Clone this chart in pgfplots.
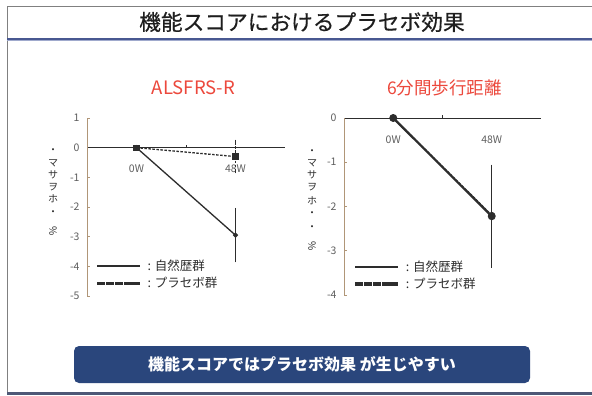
\documentclass[border=0pt]{standalone}
\usepackage{pgfplots}
\pgfplotsset{compat=1.18}
\usepackage{fontspec}
\setmainfont{Noto Sans CJK JP}
\newfontfamily\headfont[FakeBold=0.5]{Noto Sans CJK JP}

\definecolor{navy}{RGB}{42,70,124}
\definecolor{redtitle}{RGB}{236,72,60}
\definecolor{axtan}{RGB}{176,150,120}
\definecolor{ink}{RGB}{45,45,45}
\definecolor{ticktext}{RGB}{95,95,95}
\definecolor{titleink}{RGB}{30,30,30}
\definecolor{ruleblue}{RGB}{72,88,145}
\definecolor{rulelight}{RGB}{160,170,205}
\definecolor{framebot}{RGB}{78,88,118}

\pgfplotsset{
  slidechart/.style={
    scale only axis,
    xmin=-0.5, xmax=1.5,
    axis x line=middle, axis y line=left,
    axis line style={-},
    x axis line style={-, draw=ink, line width=0.9bp},
    y axis line style={-, draw=axtan, line width=0.9bp},
    hide obscured x ticks=false, hide obscured y ticks=false,
    xtick={0.5}, xticklabels={},
    extra x ticks={0,1}, extra x tick labels={0W,48W},
    extra x tick style={major tick length=0pt, xticklabel style={yshift=-14bp}},
    tick align=inside, major tick length=3bp,
    xtick style={draw=ink, line width=0.6bp},
    ytick style={draw=axtan, line width=0.6bp},
    tick label style={font=\fontsize{10.5bp}{12bp}\selectfont, text=ticktext},
    yticklabel style={xshift=-4bp},
    clip=false,
    legend cell align=left,
    legend style={draw=none, fill=none, anchor=west,
      font=\fontsize{12.5bp}{14bp}\selectfont, text=ink,
      row sep=1bp, inner sep=0pt},
    error bars/y dir=both, error bars/y explicit,
    error bars/error bar style={line width=0.9bp, draw=ink},
    error bars/error mark options={line width=0.9bp, mark size=2bp, draw=ink},
  },
  natural/.style={ink, line width=1.3bp, mark=*, mark size=1.8bp,
    mark options={solid, fill=ink}, forget plot},
  placebo/.style={ink, line width=1.3bp, dash pattern=on 2.5bp off 1.5bp,
    mark=square*, mark size=2.5bp, mark options={solid, fill=ink}, forget plot},
  % legend keys: a solid bar and a row of five thick dashes
  legnatural/.style={legend image code/.code={%
    \fill[ink] (0bp,-0.7bp) rectangle (42bp,0.7bp);}},
  legplacebo/.style={legend image code/.code={%
    \foreach \i in {0,...,4}
      \fill[ink] ({\i*8.8bp},-1.3bp) rectangle ++(7bp,2.6bp);}},
}

\begin{document}
\begin{tikzpicture}
\path[use as bounding box, fill=white] (0,0) rectangle (592bp,-396bp);

\begin{scope}[x=1bp, y=-1bp]
  % slide frame
  \draw[gray, line width=0.8bp] (7,6) -- (592,6);
  \draw[gray, line width=0.8bp] (7,6) -- (7,393);
  \draw[framebot, line width=2.6bp] (7,393.5) -- (592,393.5);

  % slide title and rule
  \node[font=\headfont\fontsize{21.7bp}{24bp}\selectfont, text=titleink] at (302,22)
    {機能スコアにおけるプラセボ効果};
  \draw[ruleblue, line width=1.8bp] (7,39.2) -- (592,39.2);
  \draw[rulelight, line width=1bp] (7,40.8) -- (592,40.8);

  % chart titles
  \node[font=\fontsize{18.5bp}{20bp}\selectfont, text=redtitle] at (193.5,88) {ALSFRS-R};
  \node[font=\fontsize{17.5bp}{20bp}\selectfont, text=redtitle] at (444.5,88) {6分間歩行距離};

  % vertical axis captions
  \begin{scope}[every node/.style={font=\fontsize{10bp}{10bp}\selectfont, text=ink, inner sep=0pt}]
    \foreach \yy/\ch in {151/・, 163/マ, 175/サ, 187/ヲ, 199/ホ, 213/・}
      \node at (53,\yy) {\ch};
    \node[rotate=-90] at (53,231) {\%};
    \foreach \yy/\ch in {152/・, 163/マ, 175/サ, 187/ヲ, 201/ホ, 214/・, 228/・}
      \node at (312,\yy) {\ch};
    \node[rotate=-90] at (312,246) {\%};
  \end{scope}

  % conclusion banner
  \fill[navy, rounded corners=5bp] (74,346) rectangle (530,383);
  \node[font=\bfseries\fontsize{16bp}{18bp}\selectfont, text=white] at (302,364.5)
    {機能スコアではプラセボ効果 が生じやすい};
\end{scope}

% ALSFRS-R
\begin{axis}[slidechart,
  at={(87bp,-296bp)}, anchor=south west,
  width=198bp, height=178bp,
  ymin=-5, ymax=1,
  ytick={-5,-4,-3,-2,-1,0,1},
  yticklabels={-5,-4,-3,-2,-1,0,1},
  legend style={at={(0.05,0.121)}},
]
\addplot[natural] coordinates {(0,0) +- (0,0) (1,-2.95) +- (0,0.85)};
\addplot[placebo] coordinates {(0,0) +- (0,0) (1,-0.3) +- (0,0.5)};
\addlegendimage{legnatural}
\addlegendentry{\hspace*{6bp}: 自然歴群}
\addlegendimage{legplacebo}
\addlegendentry{\hspace*{6bp}: プラセボ群}
\end{axis}

% 6-minute walk distance
\begin{axis}[slidechart,
  at={(344bp,-295bp)}, anchor=south west,
  width=197bp, height=177bp,
  ymin=-4, ymax=0,
  ytick={-4,-3,-2,-1,0},
  yticklabels={-4,-3,-2,-1,0},
  legend style={at={(0.056,0.113)}},
]
\addplot[natural, line width=2.2bp, mark size=2.8bp] coordinates {(0,0) +- (0,0) (1,-2.22) +- (0,1.12)};
\addplot[placebo, line width=1.6bp, mark=*, mark size=2.6bp] coordinates {(0,0) +- (0,0) (1,-2.2) +- (0,0.76)};
\addlegendimage{legnatural}
\addlegendentry{\hspace*{6bp}: 自然歴群}
\addlegendimage{legplacebo}
\addlegendentry{\hspace*{6bp}: プラセボ群}
\end{axis}
\end{tikzpicture}
\end{document}
